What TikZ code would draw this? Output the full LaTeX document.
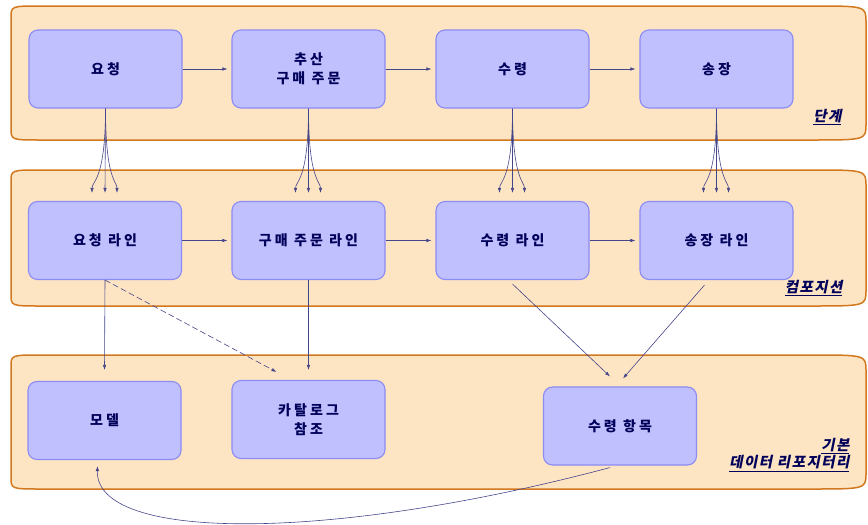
\documentclass[tikz,border=0pt]{standalone}
\usepackage{fontspec}
\setmainfont{Noto Sans CJK KR}
\newfontfamily\krbox{Noto Sans CJK KR}[LetterSpace=22]
\newfontfamily\krlab{Noto Sans CJK KR}[FakeSlant=0.2,LetterSpace=10]
\usetikzlibrary{arrows.meta}
\definecolor{bandfill}{HTML}{FDE4C2}
\definecolor{bandline}{HTML}{D2781E}
\definecolor{boxfill}{HTML}{C0C0FF}
\definecolor{boxline}{HTML}{8C8CF5}
\definecolor{ink}{HTML}{00005A}
\definecolor{wire}{HTML}{45458A}
\begin{document}
\begin{tikzpicture}[x=1pt,y=-1pt,
	box/.style={draw=boxline,fill=boxfill,line width=1.1pt,rounded corners=9pt,minimum width=153pt,minimum height=78pt,inner sep=0pt,align=center,text=ink,font=\krbox\bfseries\fontsize{14}{19}\selectfont},
	arr/.style={draw=wire,line width=.6pt,-{Latex[length=5pt,width=3.5pt]}},
	tag/.style={anchor=east,align=right,text=ink,font=\krlab\bfseries\fontsize{14.5}{17}\selectfont}]
	\useasboundingbox (0,0) rectangle (868,525);
	% bands
	\foreach \t/\b in {6/140,170/306,355/489}{
		\draw[bandline,fill=bandfill,line width=1.5pt] (41,\t) -- (811,\t) .. controls (866,\t) .. (866,\t+16) -- (866,\b-16) .. controls (866,\b) .. (811,\b) -- (41,\b) .. controls (11,\b) .. (11,\b-12) -- (11,\t+12) .. controls (11,\t) .. (41,\t) -- cycle;
	}
	\node[tag] (lstage) at (845,117) {\underline{단계}};
	\node[tag] (lcomp) at (846,288) {\underline{컴포지션}};
	\node[tag] (lbase) at (853,455) {\underline{기본}\\\underline{데이터 리포지터리}};
	% steps
	\node[box] (req) at (105.5,69) {요청};
	\node[box] (est) at (308.5,69) {추산\\구매 주문};
	\node[box] (rec) at (512.5,69) {수령};
	\node[box] (inv) at (716.5,69) {송장};
	% composition
	\node[box] (reqline) at (105,240.5) {요청 라인};
	\node[box] (poline) at (308.5,240.5) {구매 주문 라인};
	\node[box] (recline) at (512.5,240.5) {수령 라인};
	\node[box] (invline) at (716.5,240.5) {송장 라인};
	% base data
	\node[box] (model) at (104.5,420.5) {모델};
	\node[box] (cat) at (308.5,419.5) {카탈로그\\참조};
	\node[box] (item) at (620,426) {수령 항목};
	\draw[arr,shorten >=4pt] (req) -- (est);
	\draw[arr,shorten >=4pt] (est) -- (rec);
	\draw[arr,shorten >=4pt] (rec) -- (inv);
	\draw[arr,shorten >=4pt] (reqline) -- (poline);
	\draw[arr,shorten >=4pt] (poline) -- (recline);
	\draw[arr,shorten >=4pt] (recline) -- (invline);
	\foreach \u/\l in {req/reqline,est/poline,rec/recline,inv/invline}{
		\draw[arr] (\u.south) -- ([yshift=8pt]\l.north);
		\draw[arr] (\u.south) .. controls +(0,72) and +(0,-12) .. ([xshift=-13pt,yshift=8pt]\l.north);
		\draw[arr] (\u.south) .. controls +(0,72) and +(0,-12) .. ([xshift=12pt,yshift=8pt]\l.north);
	}
	\draw[arr] (reqline.south) -- ([yshift=11pt]model.north);
	\draw[arr,dash pattern=on 6pt off 3pt] (reqline.south) -- ([xshift=-32pt,yshift=8pt]cat.north);
	\draw[arr] (poline.south) -- ([yshift=10pt]cat.north);
	\draw[arr] ([yshift=-4pt]recline.south) -- ([xshift=-10pt,yshift=10pt]item.north);
	\draw[arr] ([xshift=-12pt,yshift=-5pt]invline.south) -- ([xshift=3pt,yshift=8pt]item.north);
	\draw[arr] ([xshift=-10pt,yshift=-2pt]item.south) .. controls (330,542) and (95,542) .. ([xshift=-7pt,yshift=-6pt]model.south);
\end{tikzpicture}
\end{document}
